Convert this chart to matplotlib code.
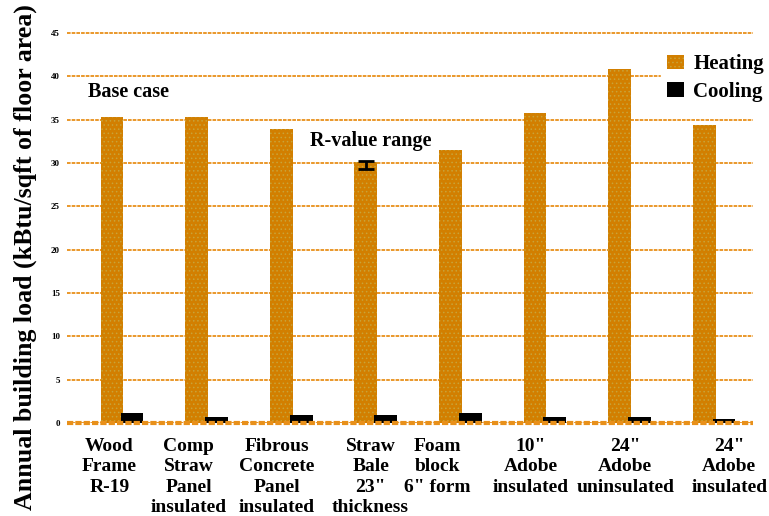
import matplotlib.pyplot as plt
import numpy as np
from matplotlib.patches import Patch

# data
categories = ['Wood\nFrame\nR-19', 'Comp\nStraw\nPanel\ninsulated',
              'Fibrous\nConcrete\nPanel\ninsulated', 'Straw\nBale\n23"\nthickness',
              'Foam\nblock\n6" form', '10"\nAdobe\ninsulated',
              '24"\nAdobe\nuninsulated', '24"\nAdobe\ninsulated']
heating = [35.3, 35.3, 33.9, 30.1, 31.5, 35.8, 40.8, 34.4]
cooling = [1.1, 0.65, 0.9, 0.9, 1.1, 0.7, 0.7, 0.43]
straw_err = [[0.6], [0.3]]   # R-value range on the straw bale bar
yticks = [0, 5, 10, 15, 20, 25, 30, 35, 40, 45]

# label positions are a bit off-centre in the original
label_shift = [-0.15, -0.21, -0.17, -0.06, -0.27, -0.17, -0.05, 0.18]

orange = '#D27F00'
grid_orange = '#E8901A'
serif = ['Liberation Serif', 'DejaVu Serif']

plt.rcParams['font.family'] = serif
plt.rcParams['font.weight'] = 'bold'
plt.rcParams['hatch.linewidth'] = 0.6

fig = plt.figure(figsize=(7.69, 5.16), dpi=100)
# 0 at y=423px, 45 at y=33px; ylim goes a bit above 45 so the top line is not clipped
top_px = 423 - 45.5 * (390 / 45)
ax = fig.add_axes([67 / 769, 1 - 423 / 516, (753 - 67) / 769, (423 - top_px) / 516])

x = np.arange(len(categories))
w = 0.27
off = 0.118

ax.bar(x - off, heating, w, color=orange, edgecolor='#C9A338', linewidth=0,
       hatch='....', zorder=3)
ax.bar(x + off, cooling, w, color='black', linewidth=0, zorder=3)
ax.errorbar(x[3] - off, heating[3] - 0.15, yerr=straw_err, fmt='none',
            ecolor='black', elinewidth=2, capsize=5.5, capthick=2, zorder=4)

ax.set_xlim(-0.65, 7.46)
ax.set_ylim(0, 45.5)
ax.set_yticks(yticks)
ax.set_yticklabels([str(t) for t in yticks], fontsize=6.5)
ax.yaxis.grid(True, color=grid_orange, linestyle=(0, (2, 0.6)), linewidth=1.3, zorder=0)
ax.axhline(0, color=grid_orange, linestyle=(0, (1.5, 0.5)), linewidth=3, zorder=5,
           clip_on=False)
ax.set_xticks(x + np.array(label_shift))
ax.set_xticklabels(categories, fontsize=14, linespacing=1.24)
ax.tick_params(axis='both', length=0)
ax.tick_params(axis='x', pad=11)
ax.tick_params(axis='y', pad=5)
for s in ax.spines.values():
    s.set_visible(False)

ax.set_ylabel('Annual building load (kBtu/sqft of floor area)', fontsize=18.6,
              fontweight='bold')
ax.yaxis.set_label_coords(-0.044, 0.42)

ax.text(-0.40, 38.2, 'Base case', fontsize=14.5, ha='left', va='center')
ax.text(2.22, 32.5, 'R-value range', fontsize=14.5, ha='left', va='center')

handles = [Patch(facecolor=orange, edgecolor='#C9A338', linewidth=0, hatch='....'),
           Patch(facecolor='black')]
leg = ax.legend(handles, ['Heating', 'Cooling'], loc='upper left',
                bbox_to_anchor=(661 / 769, 1 - 48 / 516),
                bbox_transform=fig.transFigure, frameon=True, fancybox=False,
                edgecolor='white', facecolor='white', framealpha=1,
                fontsize=15, handlelength=0.8, handleheight=0.7,
                handletextpad=0.45, labelspacing=0.35, borderpad=0.3,
                borderaxespad=0)
leg.set_zorder(6)

fig.savefig('out.png', dpi=100)
